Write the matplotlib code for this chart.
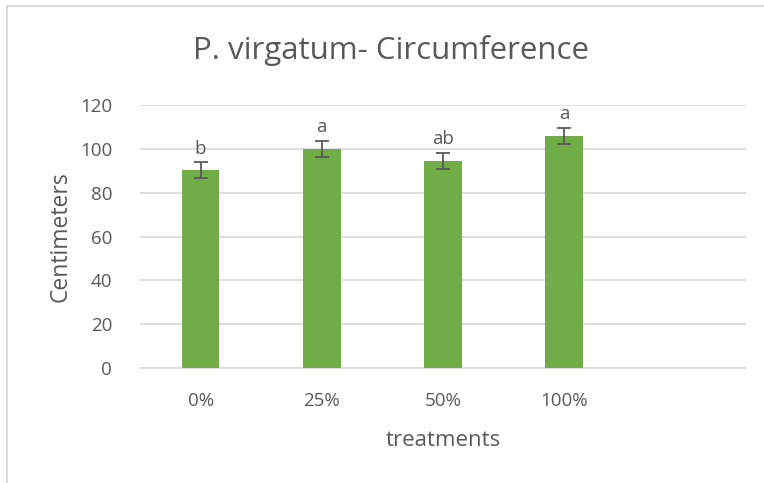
import numpy as np
import matplotlib
matplotlib.use("Agg")
import matplotlib.pyplot as plt
from matplotlib.patches import Rectangle

plt.rcParams['font.family'] = ['Open Sans', 'DejaVu Sans']

# data
treatments = ["0%", "25%", "50%", "100%", ""]
heights = [90.2, 100.0, 94.5, 106.0]
errors = [3.7, 3.7, 3.7, 3.6]
letters = ["b", "a", "ab", "a"]
yticks = [0, 20, 40, 60, 80, 100, 120]

txt = "#595959"
grid = "#d9d9d9"
green = "#70ad47"

fig = plt.figure(figsize=(7.64, 4.83), dpi=100)

# chart border (runs off the right/bottom edge as in the screenshot)
fig.patches.append(Rectangle((7 / 764, -0.1), 1.2, 1 - 6 / 483 + 0.1,
                             transform=fig.transFigure, fill=False,
                             edgecolor=grid, linewidth=1.3))

ax = fig.add_axes([140 / 764, 1 - 368 / 483, (746 - 140) / 764, (368 - 105) / 483])

x = np.arange(len(treatments))
ax.bar(x[:len(heights)], heights, width=0.31, color=green, zorder=3)
ax.errorbar(x[:len(heights)], heights, yerr=errors, fmt='none', ecolor=txt,
            elinewidth=1.3, capsize=5, capthick=1.3, zorder=4)

for xi, h, e, lab in zip(x, heights, errors, letters):
    ax.text(xi, h + e + 2.0, lab, ha='center', va='bottom', fontsize=13.5, color=txt)

ax.set_xlim(-0.5, len(treatments) - 0.5)
ax.set_ylim(0, 120)
ax.set_yticks(yticks)
ax.set_xticks(x)
ax.set_xticklabels(treatments)

ax.yaxis.grid(True, color=grid, linewidth=1.2, zorder=0)
for s in ["top", "right", "left"]:
    ax.spines[s].set_visible(False)
ax.spines["bottom"].set_color(grid)
ax.spines["bottom"].set_linewidth(1.2)
ax.tick_params(axis='both', length=0, labelsize=13.5, colors=txt)
ax.tick_params(axis='x', pad=17)
ax.tick_params(axis='y', pad=20)

ax.set_xlabel("treatments", fontsize=16, color=txt, labelpad=15)
ax.set_ylabel("Centimeters", fontsize=16.5, color=txt, labelpad=5)

fig.text(391 / 764, 1 - 50 / 483, "P. virgatum- Circumference", ha='center',
         va='center', fontsize=22.5, color=txt)

fig.savefig("out.png", dpi=100)
